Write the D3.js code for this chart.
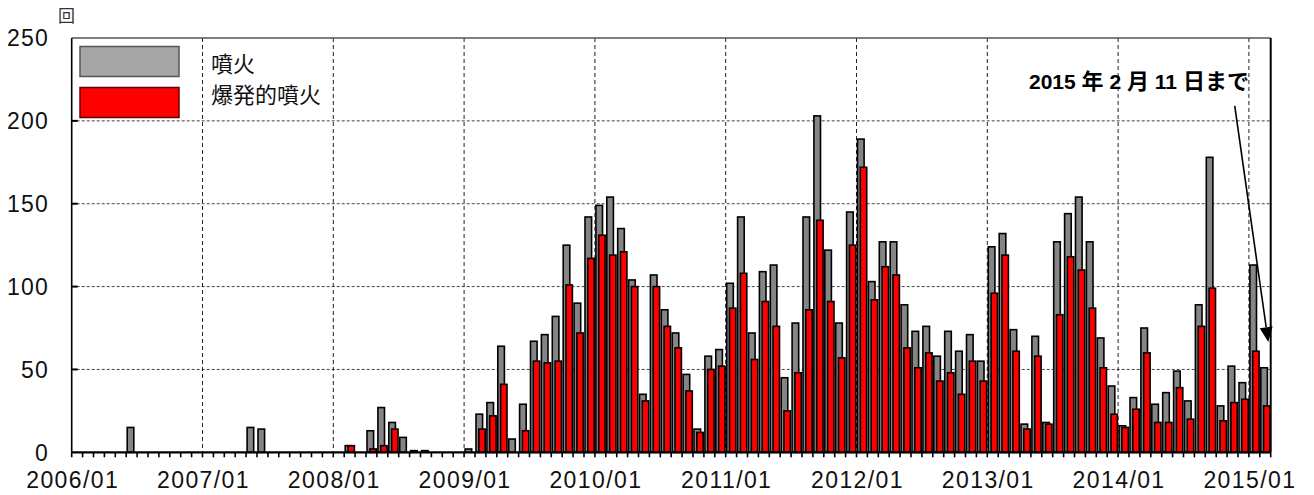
<!DOCTYPE html>
<html><head><meta charset="utf-8">
<script src="https://cdn.jsdelivr.net/npm/d3@7"></script>
<style>
html,body{margin:0;padding:0;background:#fff;}
svg{display:block;}
</style></head>
<body>
<svg id="c" width="1314" height="495"></svg>
<script>
// ---- data (monthly counts, 2006/01 .. 2015/02) ----
const months = [];
for (let y = 2006; y <= 2015; y++) for (let m = 1; m <= 12; m++) {
  if (y === 2015 && m > 2) break;
  months.push(y + "/" + String(m).padStart(2, "0"));
}
const eruptions = [
  0,0,0,0,0,15,0,0,0,0,0,0,            // 2006
  0,0,0,0,15,14,0,0,0,0,0,0,           // 2007
  0,4,0,13,27,18,9,1,1,0,0,0,          // 2008
  2,23,30,64,8,29,67,71,82,125,90,142, // 2009
  149,154,135,104,35,107,86,72,47,14,58,62, // 2010
  102,142,72,109,113,45,78,142,203,122,78,145, // 2011
  189,103,127,127,89,73,76,58,73,61,71,55,     // 2012
  124,132,74,17,70,18,127,144,154,127,69,40,   // 2013
  16,33,75,29,36,49,31,89,178,28,52,42,        // 2014
  113,51                                       // 2015
];
const explosive = [
  0,0,0,0,0,0,0,0,0,0,0,0,
  0,0,0,0,0,0,0,0,0,0,0,0,
  0,4,0,2,4,14,0,0,0,0,0,0,
  0,14,22,41,0,13,55,54,55,101,72,117,
  131,119,121,100,31,100,76,63,37,12,50,52,
  87,108,56,91,76,25,48,86,140,91,57,125,
  172,92,112,107,63,51,60,43,48,35,55,43,
  96,119,61,14,58,17,83,118,110,87,51,23,
  15,26,60,18,18,39,20,76,99,19,30,32,
  61,28
];
const yTicks = [0, 50, 100, 150, 200, 250];
const yearLabels = ["2006/01","2007/01","2008/01","2009/01","2010/01","2011/01","2012/01","2013/01","2014/01","2015/01"];
const seriesNames = ["噴火", "爆発的噴火"];
const unitLabel = "回";
const noteParts = ["2015", " ", "年", " ", "2", " ", "月", " ", "11", " ", "日まで"];

// ---- layout ----
const svg = d3.select("#c");
const L = 71.7, R = 1270.7, T = 38, B = 452.3;
const x = d3.scaleBand().domain(months).range([L, R]).paddingInner(0).paddingOuter(0);
const xPos = i => L + i * x.bandwidth();         // position at month index (fractional)
const y = d3.scaleLinear().domain([0, 250]).range([B, T]);

// horizontal grid
svg.append("g").selectAll("line").data(yTicks.filter(v => v > 0 && v < 250)).join("line")
  .attr("x1", L).attr("x2", R).attr("y1", d => y(d)).attr("y2", d => y(d))
  .attr("stroke", "#444").attr("stroke-width", 1).attr("stroke-dasharray", "3,2");
// vertical grid (years)
const yearIdx = yearLabels.map(l => months.indexOf(l));
svg.append("g").selectAll("line").data(yearIdx.filter(i => i > 0)).join("line")
  .attr("x1", d => xPos(d)).attr("x2", d => xPos(d)).attr("y1", T).attr("y2", B)
  .attr("stroke", "#222").attr("stroke-width", 1).attr("stroke-dasharray", "4,3");

// bars
const gBars = svg.append("g");
months.forEach((m, i) => {
  const bx = x(m);
  if (eruptions[i] > 0) gBars.append("rect")
    .attr("x", bx + 1.0).attr("width", 6.6)
    .attr("y", y(eruptions[i])).attr("height", B - y(eruptions[i]))
    .attr("fill", "#858585").attr("stroke", "#000").attr("stroke-width", 1.6);
  if (explosive[i] > 0) gBars.append("rect")
    .attr("x", bx + 3.8).attr("width", 6.4)
    .attr("y", y(explosive[i])).attr("height", B - y(explosive[i]))
    .attr("fill", "#ff0000").attr("stroke", "#000").attr("stroke-width", 1.6);
});

// frame
svg.append("line").attr("x1", L).attr("x2", R).attr("y1", T).attr("y2", T).attr("stroke", "#555").attr("stroke-width", 1.5);
svg.append("line").attr("x1", R).attr("x2", R).attr("y1", T).attr("y2", B).attr("stroke", "#000").attr("stroke-width", 2);
svg.append("line").attr("x1", L).attr("x2", L).attr("y1", T).attr("y2", B).attr("stroke", "#000").attr("stroke-width", 1.6);
svg.append("line").attr("x1", L).attr("x2", R).attr("y1", B).attr("y2", B).attr("stroke", "#000").attr("stroke-width", 2.2);

// y ticks (inward) and labels
svg.append("g").selectAll("line").data(yTicks.filter(v => v > 0 && v < 250)).join("line")
  .attr("x1", L).attr("x2", L + 6).attr("y1", d => y(d)).attr("y2", d => y(d))
  .attr("stroke", "#000").attr("stroke-width", 2);
svg.append("g").selectAll("text").data(yTicks).join("text")
  .attr("x", 49).attr("y", d => y(d)).attr("dy", "0.36em")
  .attr("text-anchor", "end")
  .attr("font-family", "'Liberation Sans', Arial, sans-serif").attr("font-size", 23)
  .attr("letter-spacing", 1.2).attr("fill", "#111")
  .text(d => d);

// x month ticks
svg.append("g").selectAll("line").data(d3.range(0, months.length + 1)).join("line")
  .attr("x1", d => xPos(d)).attr("x2", d => xPos(d)).attr("y1", B).attr("y2", B + 5)
  .attr("stroke", "#000").attr("stroke-width", 1.6);
// x labels
svg.append("g").selectAll("text").data(yearLabels).join("text")
  .attr("x", d => xPos(months.indexOf(d)) + 1).attr("y", 488)
  .attr("text-anchor", "middle")
  .attr("font-family", "'Liberation Sans', Arial, sans-serif").attr("font-size", 23)
  .attr("letter-spacing", 1.4).attr("fill", "#111")
  .text(d => d);

// unit label
svg.append("text").attr("x", 58).attr("y", 22)
  .attr("font-family", "'Noto Sans CJK JP', sans-serif").attr("font-size", 17)
  .attr("fill", "#333").text(unitLabel);

// legend
const legColors = ["#a6a6a6", "#ff0000"];
const legStroke = ["#555", "#600"];
const leg = svg.append("g");
seriesNames.forEach((n, i) => {
  leg.append("rect").attr("x", 80).attr("y", 46.5 + i * 41).attr("width", 99).attr("height", 30)
    .attr("fill", legColors[i]).attr("stroke", legStroke[i]).attr("stroke-width", 1.5);
  leg.append("text").attr("x", 211).attr("y", 64.5 + i * 31).attr("dy", "0.36em")
    .attr("font-family", "'Noto Sans CJK JP', sans-serif").attr("font-size", 22)
    .attr("fill", "#111").text(n);
});

// annotation
const iJan15 = months.indexOf("2015/01");
const note = svg.append("text").attr("x", xPos(iJan15)).attr("y", y(219))
  .attr("text-anchor", "end")
  .attr("font-family", "'Liberation Sans', 'Noto Sans CJK JP', sans-serif")
  .attr("font-weight", "bold").attr("font-size", 21)
  .attr("fill", "#000");
noteParts.forEach(p => {
  const cjk = /[^\x00-\x7f]/.test(p);
  note.append("tspan").attr("font-size", cjk ? 22 : 21)
    .attr("font-family", cjk ? "'Noto Sans CJK JP', sans-serif" : "'Liberation Sans', Arial, sans-serif")
    .text(p === " " ? "\u00a0" : p);
});
const ax1 = xPos(106.7), ay1 = y(209), ax2 = xPos(109.78), ay2 = y(66.5);
const dx = ax2 - ax1, dy = ay2 - ay1, len = Math.hypot(dx, dy);
const ux = dx / len, uy = dy / len, hl = 15, hw = 6.5;
const bxp = ax2 - ux * hl, byp = ay2 - uy * hl;
svg.append("line").attr("x1", ax1).attr("y1", ay1).attr("x2", bxp).attr("y2", byp)
  .attr("stroke", "#000").attr("stroke-width", 1.6);
svg.append("path")
  .attr("d", `M${ax2},${ay2} L${bxp - uy * hw},${byp + ux * hw} L${bxp + uy * hw},${byp - ux * hw} Z`)
  .attr("fill", "#000");
</script>
</body></html>
